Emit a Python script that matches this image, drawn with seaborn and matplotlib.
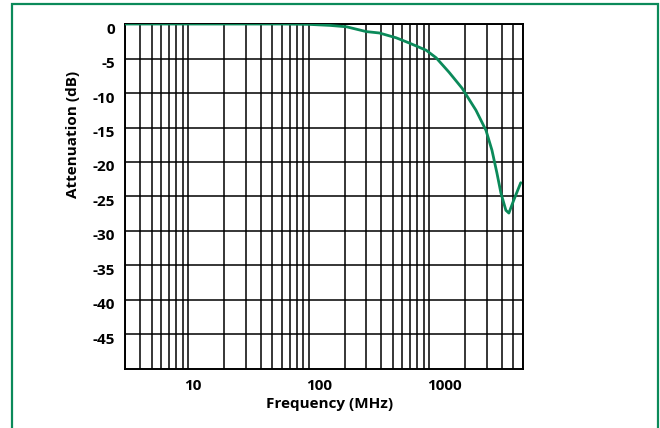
import numpy as np
import pandas as pd
import matplotlib
matplotlib.use("Agg")
import matplotlib.pyplot as plt
import matplotlib.transforms as mtransforms
from matplotlib.patches import Rectangle
from matplotlib.ticker import FixedLocator, LogLocator, NullFormatter
import seaborn as sns

# Data
freq_mhz = [3, 20, 60, 100, 150, 206, 301, 386, 533, 683, 944, 1143, 1463,
            1874, 2444, 2958, 3318, 3648, 3938, 4328, 4583, 5038, 5750]
atten_db = [0.0, 0.0, 0.0, -0.05, -0.2, -0.4, -1.1, -1.3, -2.0, -2.75, -3.8,
            -4.9, -7.0, -9.3, -12.5, -15.4, -18.3, -21.6, -24.5, -27.0, -27.4,
            -25.5, -23.0]
x_ticks = [10, 100, 1000]
y_ticks = [0, -5, -10, -15, -20, -25, -30, -35, -40, -45]

sns.set_style("white")
plt.rcParams["font.family"] = ["Open Sans", "DejaVu Sans"]
plt.rcParams["text.color"] = "black"
plt.rcParams["axes.labelcolor"] = "black"
plt.rcParams["xtick.color"] = "black"
plt.rcParams["ytick.color"] = "black"

df = pd.DataFrame({"Frequency (MHz)": freq_mhz, "Attenuation (dB)": atten_db})

fig = plt.figure(figsize=(6.6, 4.28), dpi=100)
ax = fig.add_axes([0.1894, 0.1379, 0.603, 0.806])

green = "#0b8a5a"
sns.lineplot(data=df, x="Frequency (MHz)", y="Attenuation (dB)", ax=ax,
             color=green, linewidth=2.0, zorder=5)

ax.set_xscale("log")
ax.set_xlim(3, 6000)
ax.set_ylim(-50, 0)

ax.xaxis.set_major_locator(FixedLocator(x_ticks))
ax.xaxis.set_minor_locator(LogLocator(base=10, subs=np.arange(2, 10)))
ax.xaxis.set_minor_formatter(NullFormatter())
ax.set_xticks(x_ticks)
ax.set_xticklabels([str(t) for t in x_ticks])
ax.set_yticks(y_ticks)
ax.set_yticklabels([str(t) for t in y_ticks])

ax.grid(True, which="both", axis="x", color="black", linewidth=1.1)
ax.grid(True, which="major", axis="y", color="black", linewidth=1.1)
for s in ax.spines.values():
    s.set_color("black")
    s.set_linewidth(1.4)

ax.tick_params(axis="both", which="both", length=0, pad=7, labelcolor="black")
for lab in ax.get_xticklabels() + ax.get_yticklabels():
    lab.set_fontweight("bold")
    lab.set_fontsize(11)

# nudge tick labels like in the reference
for lab, dx in zip(ax.get_xticklabels(), [5, 11, 15]):
    lab.set_transform(lab.get_transform() +
                      mtransforms.ScaledTranslation(dx / 100, 0, fig.dpi_scale_trans))
for lab in ax.get_yticklabels():
    lab.set_transform(lab.get_transform() +
                      mtransforms.ScaledTranslation(0, -4 / 100, fig.dpi_scale_trans))

ax.set_xlabel("Frequency (MHz)", fontweight="bold", fontsize=11, color="black")
ax.set_ylabel("Attenuation (dB)", fontweight="bold", fontsize=11, color="black")
ax.xaxis.set_label_coords(0.515, -0.101)
ax.xaxis.label.set_va("center")
ax.yaxis.set_label_coords(-0.131, 0.681)
ax.yaxis.label.set_va("center")

# green frame around the figure
fig.patches.append(Rectangle((12 / 660, -0.05), 646 / 660, 1.04,
                             transform=fig.transFigure, fill=False,
                             edgecolor=green, linewidth=1.6))

fig.savefig("out.png", dpi=100)
